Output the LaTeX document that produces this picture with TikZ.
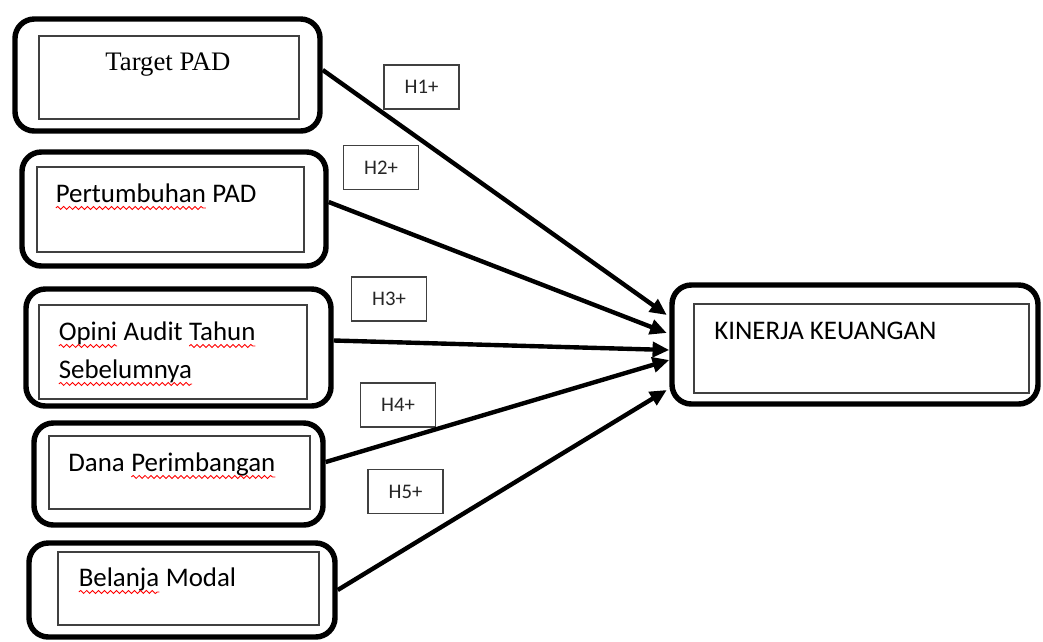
\documentclass[tikz,border=0pt]{standalone}
\usepackage{fontspec}
\setmainfont{Carlito}
\newfontfamily\timesfont{Liberation Serif}
\usetikzlibrary{arrows.meta,positioning,calc,decorations.pathmorphing}

% red spell-check underline under a word
\newcommand{\wavy}[1]{\tikz[baseline=(w.base)]{\node[inner sep=0pt,outer sep=0pt] (w) {#1};\draw[red,line width=0.5pt,decorate,decoration={snake,amplitude=0.85pt,segment length=3.4pt}] ([yshift=-3.4pt]w.base west) -- ([yshift=-3.4pt]w.base east);}}

\tikzset{
    outerbox/.style = {draw, line width=3.1pt, rounded corners=11pt, inner sep=0pt},
    innerbox/.style = {draw=black!75, line width=0.8pt, inner sep=0pt},
    label text/.style = {inner sep=0pt, anchor=base west, font=\fontsize{15.3}{18}\selectfont},
    hyp/.style = {draw=black!75, line width=0.7pt, minimum width=1.5cm, minimum height=0.88cm, inner sep=0pt, font=\fontsize{11.8}{14}\selectfont, text=black!85},
    link/.style = {line width=2.5pt, -{Triangle[length=9.5pt,width=8.5pt]}}
}

\begin{document}
\begin{tikzpicture}
        \useasboundingbox (0,0) rectangle (20.86,-12.84);
        % independent variables
        \node (b1) at (3.35,-1.5) [outerbox, minimum width=6.1cm, minimum height=2.24cm] {};
        \node (i1) at (3.38,-1.55) [innerbox, minimum width=5.2cm, minimum height=1.66cm] {};
        \node (t1) at (3.36,-1.4) [inner sep=0pt, anchor=base, font=\timesfont\fontsize{15.2}{18}\selectfont] {Target PAD};
        \node (b2) at (3.48,-4.18) [outerbox, minimum width=6.08cm, minimum height=2.28cm] {};
        \node (i2) at (3.41,-4.19) [innerbox, minimum width=5.34cm, minimum height=1.7cm] {};
        \node (t2) at (1.1,-4.04) [label text] {\wavy{Pertumbuhan} PAD};
        \node (b3) at (3.57,-6.95) [outerbox, minimum width=6.1cm, minimum height=2.34cm] {};
        \node (i3) at (3.46,-7.04) [innerbox, minimum width=5.36cm, minimum height=1.88cm] {};
        \node (t3) at (1.16,-6.8) [label text] {\wavy{Opini} Audit \wavy{Tahun}};
        \node (t3b) at (1.16,-7.56) [label text] {\wavy{Sebelumnya}};
        \node (b4) at (3.57,-9.48) [outerbox, minimum width=5.78cm, minimum height=2.04cm] {};
        \node (i4) at (3.59,-9.45) [innerbox, minimum width=5.22cm, minimum height=1.46cm] {};
        \node (t4) at (1.36,-9.42) [label text] {Dana \wavy{Perimbangan}};
        \node (b5) at (3.64,-11.8) [outerbox, minimum width=6.12cm, minimum height=1.88cm] {};
        \node (i5) at (3.77,-11.77) [innerbox, minimum width=5.22cm, minimum height=1.46cm] {};
        \node (t5) at (1.56,-11.72) [label text] {\wavy{Belanja} Modal};
        % dependent variable
        \node (kin) at (17.1,-6.89) [outerbox, minimum width=7.32cm, minimum height=2.38cm] {};
        \node (kini) at (17.23,-6.97) [innerbox, minimum width=6.7cm, minimum height=1.78cm] {};
        \node (tk) at (14.28,-6.78) [label text] {KINERJA KEUANGAN};
        % hypotheses
        \node (h1) at (8.43,-1.74) [hyp] {H1+};
        \node (h2) at (7.62,-3.35) [hyp] {H2+};
        \node (h3) at (7.78,-5.98) [hyp] {H3+};
        \node (h4) at (7.96,-8.1) [hyp] {H4+};
        \node (h5) at (8.11,-9.83) [hyp] {H5+};
        % paths
        \draw [link] ($(b1.east)+(0,0.1)$) -- ($(kin.west)+(-0.05,0.59)$);
        \draw [link] ($(b2.east)+(0,0.14)$) -- ($(kin.west)+(-0.05,0.23)$);
        \draw [link] ($(b3.east)+(0,0.14)$) -- ($(kin.west)+(0,-0.11)$);
        \draw [link] ($(b4.east)+(0,0.24)$) -- ($(kin.west)+(0,-0.31)$);
        \draw [link] (b5.east) -- ($(kin.west)+(-0.05,-0.91)$);
    \end{tikzpicture}
\end{document}
